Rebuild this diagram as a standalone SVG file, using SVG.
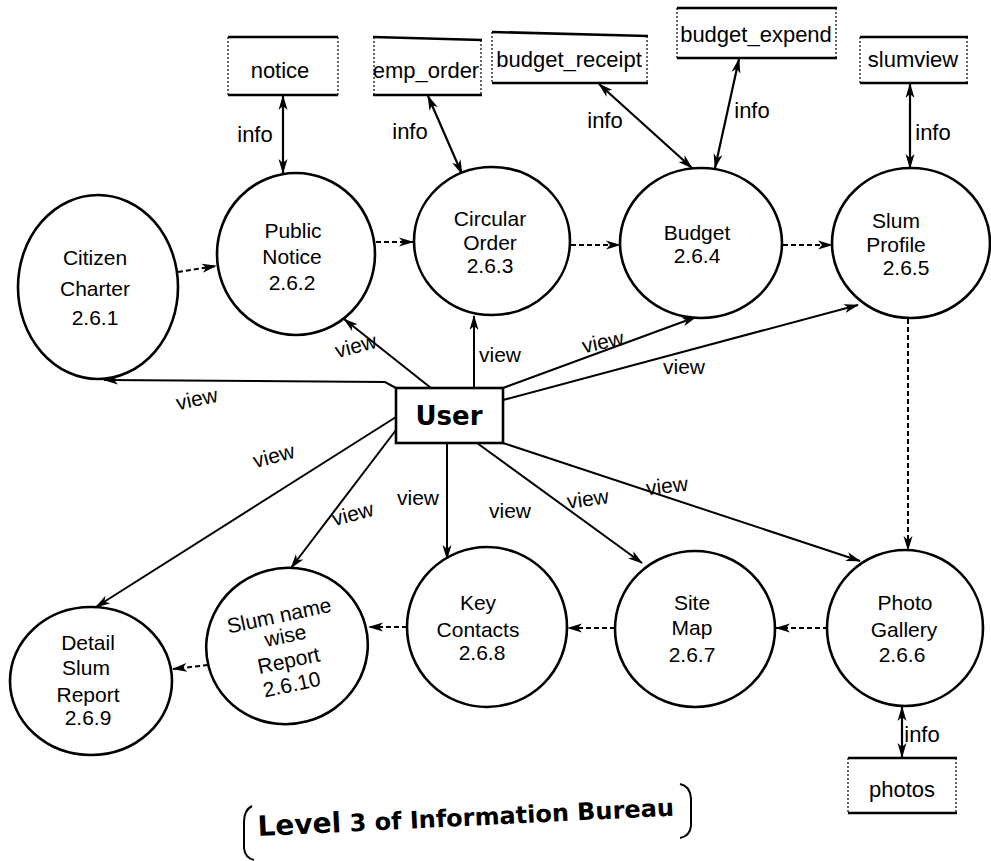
<svg xmlns="http://www.w3.org/2000/svg" width="991" height="861" viewBox="0 0 991 861">
<defs>
<marker id="ah" markerWidth="16" markerHeight="10" refX="14" refY="5" orient="auto-start-reverse" markerUnits="userSpaceOnUse">
<path d="M0,0.5 L15,5 L0,9.5 L4,5 z" fill="#000"/>
</marker>
<style>
.n{fill:#fff;stroke:#000;stroke-width:2.6}
.t{font-family:"Liberation Sans",Arial,sans-serif;font-size:21px;fill:#000;text-anchor:middle}
.st{font-family:"Liberation Sans",Arial,sans-serif;font-size:22px;fill:#000;text-anchor:middle}
.lb{font-family:"Liberation Sans",Arial,sans-serif;font-size:21px;fill:#000;text-anchor:middle}
.inf{font-family:"Liberation Sans",Arial,sans-serif;font-size:22px;fill:#000;text-anchor:middle}
.sl{stroke:#000;stroke-width:2.6;fill:none}
.sd{stroke:#000;stroke-width:1.2;stroke-dasharray:2,2;fill:none}
.c{stroke:#000;stroke-width:2;fill:none;marker-end:url(#ah)}
.d{stroke:#000;stroke-width:2;stroke-dasharray:5,3;fill:none;marker-end:url(#ah)}
.b{stroke:#000;stroke-width:2.2;fill:none;marker-start:url(#ah);marker-end:url(#ah)}
</style>
</defs>
<rect width="991" height="861" fill="#fff"/>

<g id="connectors">
<!-- info double arrows -->
<path class="b" d="M283,96 L283,173"/>
<path class="b" d="M428,96 L462,174"/>
<path class="b" d="M599,84 L692,168"/>
<path class="b" d="M739,59 L715,168"/>
<path class="b" d="M910,84 L910,168"/>
<path class="b" d="M902,707 L902,757"/>
<!-- dashed flows -->
<path class="d" d="M178,272 L216,266"/>
<path class="d" d="M376,242 L413,242"/>
<path class="d" d="M571,245 L620,245"/>
<path class="d" d="M783,245 L832,245"/>
<path class="d" d="M908,319 L908,550"/>
<path class="d" d="M828,628 L776,628"/>
<path class="d" d="M615,628 L568,628"/>
<path class="d" d="M407,627 L369,627"/>
<path class="d" d="M208,665 L173,669"/>
<!-- view arrows -->
<path class="c" d="M396,388 L385,382 L104,380"/>
<path class="c" d="M431,388 L344,319"/>
<path class="c" d="M474,388 L474,316"/>
<path class="c" d="M503,388 L696,317"/>
<path class="c" d="M503,400 L858,305"/>
<path class="c" d="M503,443 L860,561"/>
<path class="c" d="M477,443 L642,563"/>
<path class="c" d="M447,443 L447,559"/>
<path class="c" d="M396,430 L291,568"/>
<path class="c" d="M396,417 L96,607"/>
<!-- labels -->
<text class="inf" x="255" y="142">info</text>
<text class="inf" x="410" y="139">info</text>
<text class="inf" x="605" y="128">info</text>
<text class="inf" x="752" y="118">info</text>
<text class="inf" x="933" y="140">info</text>
<text class="inf" x="922" y="742">info</text>
<text class="lb" x="356" y="353" transform="rotate(-15 356 347)">view</text>
<text class="lb" x="500" y="362">view</text>
<text class="lb" x="603" y="349" transform="rotate(-12 603 343)">view</text>
<text class="lb" x="684" y="374">view</text>
<text class="lb" x="197" y="406" transform="rotate(-12 197 400)">view</text>
<text class="lb" x="274" y="463" transform="rotate(-15 274 457)">view</text>
<text class="lb" x="353" y="521" transform="rotate(-15 353 515)">view</text>
<text class="lb" x="418" y="505">view</text>
<text class="lb" x="510" y="518">view</text>
<text class="lb" x="588" y="506" transform="rotate(-8 588 500)">view</text>
<text class="lb" x="667" y="493" transform="rotate(-6 667 487)">view</text>
</g>

<g id="store-notice">
<line class="sl" x1="228" y1="37" x2="338" y2="37"/><line class="sl" x1="228" y1="95" x2="338" y2="95"/>
<line class="sd" x1="228" y1="37" x2="228" y2="95"/><line class="sd" x1="338" y1="37" x2="338" y2="95"/>
<text class="st" x="280" y="78">notice</text>
</g>
<g id="store-emp_order">
<line class="sl" x1="373" y1="37" x2="482" y2="40"/><line class="sl" x1="373" y1="95" x2="482" y2="95"/>
<line class="sd" x1="374" y1="37" x2="374" y2="95"/><line class="sd" x1="481" y1="40" x2="481" y2="95"/>
<text class="st" x="426" y="78">emp_order</text>
</g>
<g id="store-budget_receipt">
<line class="sl" x1="492" y1="32" x2="648" y2="36"/><line class="sl" x1="492" y1="83" x2="648" y2="83"/>
<line class="sd" x1="492" y1="32" x2="492" y2="83"/><line class="sd" x1="647" y1="36" x2="647" y2="83"/>
<text class="st" x="569" y="67">budget_receipt</text>
</g>
<g id="store-budget_expend">
<line class="sl" x1="677" y1="8" x2="837" y2="8"/><line class="sl" x1="677" y1="58" x2="837" y2="58"/>
<line class="sd" x1="677" y1="8" x2="677" y2="58"/><line class="sd" x1="836" y1="8" x2="836" y2="58"/>
<text class="st" x="756" y="42">budget_expend</text>
</g>
<g id="store-slumview">
<line class="sl" x1="860" y1="37" x2="968" y2="37"/><line class="sl" x1="860" y1="83" x2="968" y2="83"/>
<line class="sd" x1="860" y1="37" x2="860" y2="83"/><line class="sd" x1="967" y1="37" x2="967" y2="83"/>
<text class="st" x="913" y="67">slumview</text>
</g>
<g id="store-photos">
<line class="sl" x1="848" y1="758" x2="957" y2="758"/><line class="sl" x1="848" y1="813" x2="957" y2="813"/>
<line class="sd" x1="848" y1="758" x2="848" y2="813"/><line class="sd" x1="956" y1="758" x2="956" y2="813"/>
<text class="st" x="902" y="797">photos</text>
</g>

<g id="n261">
<ellipse class="n" cx="98" cy="287" rx="80" ry="92"/>
<text class="t" x="95" y="265">Citizen</text><text class="t" x="95" y="296">Charter</text><text class="t" x="95" y="325">2.6.1</text>
</g>
<g id="n262">
<ellipse class="n" cx="296" cy="254" rx="79" ry="81"/>
<text class="t" x="293" y="238">Public</text><text class="t" x="292" y="264">Notice</text><text class="t" x="292" y="290">2.6.2</text>
</g>
<g id="n263">
<ellipse class="n" cx="492" cy="241" rx="78" ry="74"/>
<text class="t" x="490" y="226">Circular</text><text class="t" x="490" y="250">Order</text><text class="t" x="490" y="273">2.6.3</text>
</g>
<g id="n264">
<ellipse class="n" cx="701" cy="243" rx="81" ry="75"/>
<text class="t" x="697" y="240">Budget</text><text class="t" x="697" y="263">2.6.4</text>
</g>
<g id="n265">
<ellipse class="n" cx="911" cy="243" rx="79" ry="75"/>
<text class="t" x="896" y="228">Slum</text><text class="t" x="896" y="252">Profile</text><text class="t" x="906" y="275">2.6.5</text>
</g>
<g id="user">
<rect x="396" y="388" width="107" height="55" fill="#fff" stroke="#000" stroke-width="2.6"/>
<text x="449" y="425" font-family="'DejaVu Sans',Verdana,sans-serif" font-weight="bold" font-size="26" text-anchor="middle">User</text>
</g>
<g id="n266">
<ellipse class="n" cx="905" cy="628" rx="78" ry="78"/>
<text class="t" x="905" y="610">Photo</text><text class="t" x="904" y="637">Gallery</text><text class="t" x="902" y="662">2.6.6</text>
</g>
<g id="n267">
<ellipse class="n" cx="695" cy="629" rx="80" ry="78"/>
<text class="t" x="692" y="610">Site</text><text class="t" x="692" y="635">Map</text><text class="t" x="692" y="662">2.6.7</text>
</g>
<g id="n268">
<ellipse class="n" cx="487" cy="627" rx="80" ry="80"/>
<text class="t" x="478" y="610">Key</text><text class="t" x="478" y="637">Contacts</text><text class="t" x="482" y="660">2.6.8</text>
</g>
<g id="n2610">
<ellipse class="n" cx="287" cy="646" rx="81" ry="78" transform="rotate(-15 287 646)"/>
<g transform="rotate(-12 286 648)">
<text class="t" x="286" y="622">Slum name</text><text class="t" x="288" y="643">wise</text><text class="t" x="286" y="668">Report</text><text class="t" x="284" y="692">2.6.10</text>
</g>
</g>
<g id="n269">
<ellipse class="n" cx="91" cy="681" rx="81" ry="74"/>
<text class="t" x="88" y="650">Detail</text><text class="t" x="86" y="675">Slum</text><text class="t" x="88" y="702">Report</text><text class="t" x="88" y="725">2.6.9</text>
</g>

<g id="caption">
<text x="258" y="836" transform="rotate(-2.8 258 836)" font-family="'DejaVu Sans',Verdana,sans-serif" font-weight="bold" font-size="24"><tspan font-size="28">Level</tspan> 3 of Information Bureau</text>
<path d="M252,806 Q244,810 244,822 L244,848 Q245,858 254,860" fill="none" stroke="#000" stroke-width="2"/>
<path d="M680,784 Q690,786 691,798 L691,826 Q690,836 680,838" fill="none" stroke="#000" stroke-width="2"/>
</g>
</svg>
